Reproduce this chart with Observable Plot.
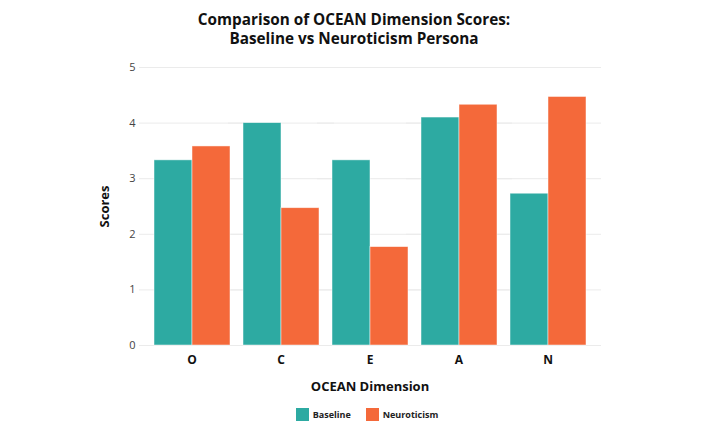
<!DOCTYPE html>
<html><head><meta charset="utf-8">
<script src="https://cdn.jsdelivr.net/npm/d3@7"></script>
<script src="https://cdn.jsdelivr.net/npm/@observablehq/plot@0.6"></script>
<style>
body{margin:0;background:#fff;font-family:"Open Sans",sans-serif;}
#title{text-align:center;font-weight:700;font-size:15.3px;line-height:19px;padding-top:10px;color:#111;height:38px;}
#chart svg{display:block;font-family:"Open Sans",sans-serif;}
g[aria-label="y-axis tick label"]{font-size:11px;fill:#444;}
g[aria-label="fx-axis tick label"]{font-size:12px;font-weight:700;fill:#111;}
g[aria-label="y-axis label"], g[aria-label="fx-axis label"]{font-size:13px;font-weight:700;fill:#111;}
#legend{display:flex;justify-content:center;align-items:center;gap:15px;font-size:9px;font-weight:700;color:#222;height:22px;padding-left:26px;}
.sw{display:flex;align-items:center;gap:4px;}
.sw span.box{display:inline-block;width:13px;height:13px;}
</style></head><body>
<div id="title">Comparison of OCEAN Dimension Scores:<br>Baseline vs Neuroticism Persona</div>
<div id="chart"></div>
<div id="legend"></div>
<script>
const dimensions = ["O", "C", "E", "A", "N"];
const seriesNames = ["Baseline", "Neuroticism"];
const baselineScores = [3.33, 4.0, 3.33, 4.1, 2.73];
const neuroticismScores = [3.58, 2.47, 1.77, 4.33, 4.47];
const yTicks = [0, 1, 2, 3, 4, 5];
const colors = ["#2DAAA2", "#F4693A"];

const data = dimensions.flatMap((d, i) => [
  {dim: d, series: seriesNames[0], score: baselineScores[i]},
  {dim: d, series: seriesNames[1], score: neuroticismScores[i]}
]);

const chart = Plot.plot({
  width: 708, height: 355,
  marginTop: 19, marginBottom: 58, marginLeft: 138, marginRight: 107,
  fx: {domain: dimensions, paddingInner: 0.13, paddingOuter: 0.16, label: "OCEAN Dimension", axis: null},
  x: {domain: seriesNames, padding: 0, axis: null},
  y: {domain: [0, 5], label: "Scores", axis: null},
  color: {domain: seriesNames, range: colors},
  marks: [
    Plot.ruleY(yTicks, {stroke: "#ebebeb", strokeWidth: 1, insetLeft: -14, insetRight: -15}),
    Plot.axisY({ticks: yTicks, tickFormat: "d", tickSize: 0, tickPadding: 18, label: "Scores", labelArrow: "none", labelAnchor: "center", labelOffset: 54}),
    Plot.axisFx({anchor: "bottom", tickSize: 0, tickPadding: 10, label: "OCEAN Dimension", labelAnchor: "center", labelOffset: 45}),
    Plot.barY(data, {fx: "dim", x: "series", y: "score", fill: "series", stroke: "white", strokeWidth: 0.8, strokeOpacity: 0.6})
  ]
});
document.getElementById("chart").append(chart);

const lg = document.getElementById("legend");
seriesNames.forEach((s, i) => {
  const el = document.createElement("div");
  el.className = "sw";
  el.innerHTML = `<span class="box" style="background:${colors[i]}"></span><span>${s}</span>`;
  lg.append(el);
});
</script>
</body></html>
